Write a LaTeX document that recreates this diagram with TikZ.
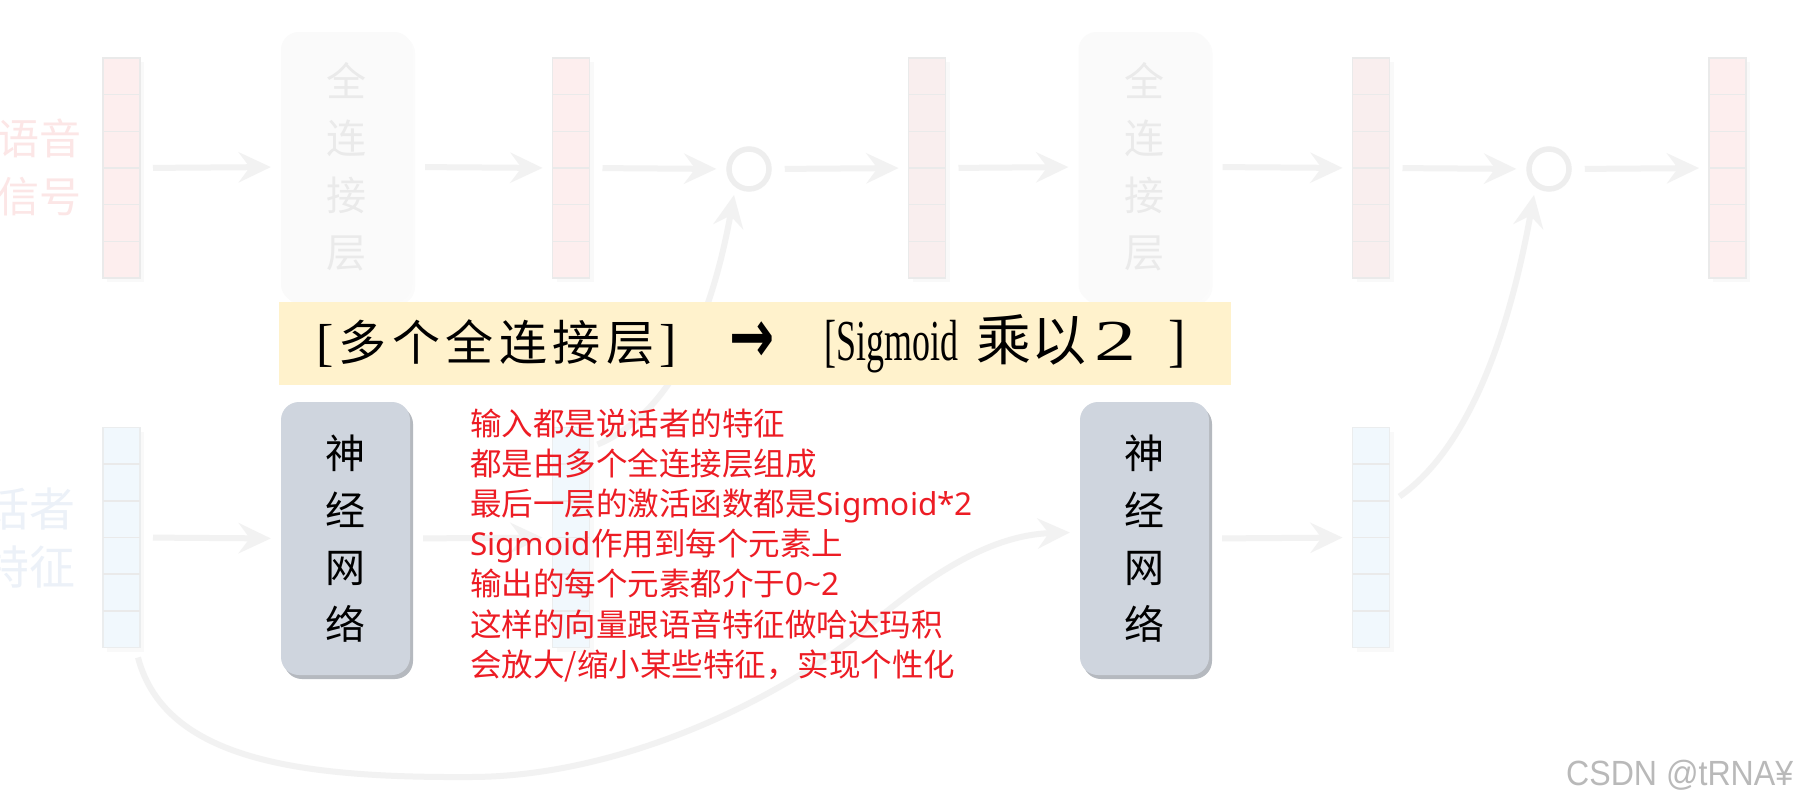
\documentclass[tikz,border=0pt]{standalone}
\usepackage{fontspec}
\usepackage{graphicx}
\usetikzlibrary{arrows.meta,calc,shadows}
\newfontfamily\cjk{Noto Sans CJK SC}
\newfontfamily\lat{Noto Sans}
\newfontfamily\ser{Liberation Serif}
\newfontfamily\dejavu{DejaVu Sans}
\newfontfamily\arialf{Liberation Sans}
\definecolor{pinkfill}{RGB}{253,238,238}
\definecolor{pinkfillb}{RGB}{249,238,238}
\definecolor{bluefill}{RGB}{241,248,253}
\definecolor{vecborder}{RGB}{234,234,234}
\definecolor{arrcol}{RGB}{242,242,242}
\definecolor{ringcol}{RGB}{238,238,238}
\definecolor{fcfill}{RGB}{250,250,250}
\definecolor{fctext}{RGB}{234,234,234}
\definecolor{nnfill}{RGB}{207,213,222}
\definecolor{nnshadow}{RGB}{150,156,165}
\definecolor{bannerfill}{RGB}{255,242,204}
\definecolor{redtxt}{RGB}{237,28,36}
\definecolor{pinklabel}{RGB}{252,230,230}
\definecolor{bluelabel}{RGB}{236,241,248}
\definecolor{wmark}{RGB}{185,185,185}
\pgfdeclarelayer{back}
\pgfdeclarelayer{bg}
\pgfsetlayers{back,bg,main}
\begin{document}
\begin{tikzpicture}[x=1pt,y=-1pt,
  vecbase/.style={draw=vecborder, line width=1.5pt, minimum width=37pt, minimum height=220pt, inner sep=0pt, outer sep=0pt,
     drop shadow={shadow xshift=4pt, shadow yshift=-4pt, fill=black, opacity=0.025}},
  vecp/.style={vecbase, fill=pinkfill},
  vecq/.style={vecbase, fill=pinkfillb},
  vecb/.style={vecbase, fill=bluefill, draw=vecborder!80!bluefill},
  cellsep/.style={draw=vecborder, line width=1.6pt},
  fcbox/.style={fill=fcfill, rounded corners=18pt, minimum width=131pt, minimum height=270pt, inner sep=0pt,
     text=fctext, font=\cjk\fontsize{40pt}{57pt}\selectfont, align=center,
     drop shadow={shadow xshift=3pt, shadow yshift=-3pt, fill=black, opacity=0.015}},
  nnbox/.style={fill=nnfill, rounded corners=18pt, minimum width=129pt, minimum height=273pt, inner sep=0pt,
     text=black, font=\cjk\fontsize{40pt}{57pt}\selectfont, align=center,
     drop shadow={shadow xshift=3pt, shadow yshift=-4pt, fill=nnshadow, opacity=0.7}},
  ring/.style={circle, draw=ringcol, line width=5.5pt, minimum size=40pt, inner sep=0pt},
  flow/.style={draw=arrcol, line width=6pt, -{Stealth[length=32pt,width=30pt,inset=11pt]}, shorten <=13pt, shorten >=10pt},
  flowc/.style={draw=arrcol, line width=6pt, -{Stealth[length=32pt,width=30pt,inset=11pt]}},
  redline/.style={anchor=base west, inner sep=0pt, text=redtxt, font=\cjk\fontsize{31.5pt}{40pt}\selectfont}
]
\useasboundingbox (0,0) rectangle (1800,806);
\clip (0,0) rectangle (1800,806);
\begin{pgfonlayer}{back}
\fill[white] (0,0) rectangle (1800,806);
\end{pgfonlayer}

% side labels
\node[anchor=east, align=right, inner sep=0pt, text=pinklabel, font=\cjk\fontsize{42pt}{58pt}\selectfont] (lab1) at (82,167) {语音\\信号};
\node[anchor=east, align=right, inner sep=0pt, text=bluelabel, font=\cjk\fontsize{46pt}{58pt}\selectfont] (lab2) at (76,538) {话者\\特征};

% top row
\node[vecp] (v1) at (121.5,168) {};
\node[fcbox] (f1) at (346.5,167) {全\\连\\接\\层};
\node[vecp] (v2) at (571,168) {};
\node[ring] (c1) at (749,169) {};
\node[vecq] (v3) at (927,168) {};
\node[fcbox] (f2) at (1144,167) {全\\连\\接\\层};
\node[vecq] (v4) at (1371,168) {};
\node[ring] (c2) at (1549,169) {};
\node[vecp] (v5) at (1727.5,168) {};

% bottom row
\node[vecb] (u1) at (121.5,537.5) {};
\node[nnbox] (n1) at (345.5,538.5) {神\\经\\网\\络};
\node[vecb] (u2) at (571,537.5) {};
\node[nnbox] (n2) at (1144.5,538.5) {神\\经\\网\\络};
\node[vecb] (u4) at (1371,537.5) {};

\foreach \v in {v1,v2,v3,v4,v5,u1,u2,u4}{
  \foreach \k in {1,...,5}{
    \draw[cellsep] ($(\v.north west)!\k/6!(\v.south west)$) -- ($(\v.north east)!\k/6!(\v.south east)$);
  }
}

\begin{pgfonlayer}{bg}
  \draw[flow] (v1.east) -- (f1.west);
  \draw[flow] (f1.east) -- (v2.west);
  \draw[flow] (v2.east) -- (c1.west);
  \draw[flow] (c1.east) -- (v3.west);
  \draw[flow] (v3.east) -- (f2.west);
  \draw[flow] (f2.east) -- (v4.west);
  \draw[flow] (v4.east) -- (c2.west);
  \draw[flow] (c2.east) -- (v5.west);
  \draw[flow] (u1.east) -- (n1.west);
  \draw[flow] (n1.east) -- (u2.west);
  \draw[flow] (n2.east) -- (u4.west);
  \draw[flowc] ([xshift=8pt,yshift=-17pt]u2.north east) .. controls (680,410) and (715,300) .. ([shift={(-15pt,-26pt)}]c1.center);
  \draw[flowc] ([xshift=10pt,yshift=-69pt]u4.north east) .. controls (1480,440) and (1515,300) .. ([shift={(-15pt,-26pt)}]c2.center);
  \draw[flowc] ([xshift=-2pt,yshift=-10pt]u1.south east) .. controls (165,760) and (300,778) .. (470,777)
     .. controls (620,777) and (780,700) .. (870,625)
     .. controls (930,575) and (990,535) .. ([xshift=-10pt,yshift=6pt]n2.west);
\end{pgfonlayer}

% banner
\node[fill=bannerfill, minimum width=952pt, minimum height=83pt, inner sep=0pt] (bn) at (755,343.5) {};
\node[inner sep=0pt] (bt1) at (496.5,344) {\ser\fontsize{52pt}{52pt}\selectfont\makebox[361pt]{[\hfill{\cjk\fontsize{48pt}{48pt}\selectfont 多}\hfill{\cjk\fontsize{48pt}{48pt}\selectfont 个}\hfill{\cjk\fontsize{48pt}{48pt}\selectfont 全}\hfill{\cjk\fontsize{48pt}{48pt}\selectfont 连}\hfill{\cjk\fontsize{48pt}{48pt}\selectfont 接}\hfill{\cjk\fontsize{48pt}{48pt}\selectfont 层}\hfill]}};
\node[inner sep=0pt] (bt2) at (752,342) {\dejavu\bfseries\fontsize{54pt}{54pt}\selectfont\scalebox{1}[1.4]{→}};
\node[inner sep=0pt, anchor=west] (bt3) at (824,344) {\ser\fontsize{58pt}{58pt}\selectfont\scalebox{0.62}[1]{[Sigmoid}\hspace{18pt}{\cjk\fontsize{55pt}{55pt}\selectfont 乘以}\hspace{8pt}\scalebox{1.45}[1]{2}\hspace{32pt}\scalebox{0.9}[1]{]}};

% red notes
\node[redline] (t1) at (470,435) {输入都是说话者的特征};
\node[redline] (t2) at (470,475) {都是由多个全连接层组成};
\node[redline] (t3) at (470,515) {最后一层的激活函数都是{\lat Sigmoid*2}};
\node[redline] (t4) at (470,555) {{\lat Sigmoid}作用到每个元素上};
\node[redline] (t5) at (470,595) {输出的每个元素都介于{\lat 0\textasciitilde 2}};
\node[redline] (t6) at (470,636) {这样的向量跟语音特征做哈达玛积};
\node[redline] (t7) at (470,676) {会放大/缩小某些特征，实现个性化};

% watermark
\node[anchor=base west, inner sep=0pt, text=wmark] (wm) at (1566,785) {\resizebox{227pt}{\height}{\arialf\fontsize{35pt}{35pt}\selectfont CSDN @tRNA¥}};
\end{tikzpicture}
\end{document}
